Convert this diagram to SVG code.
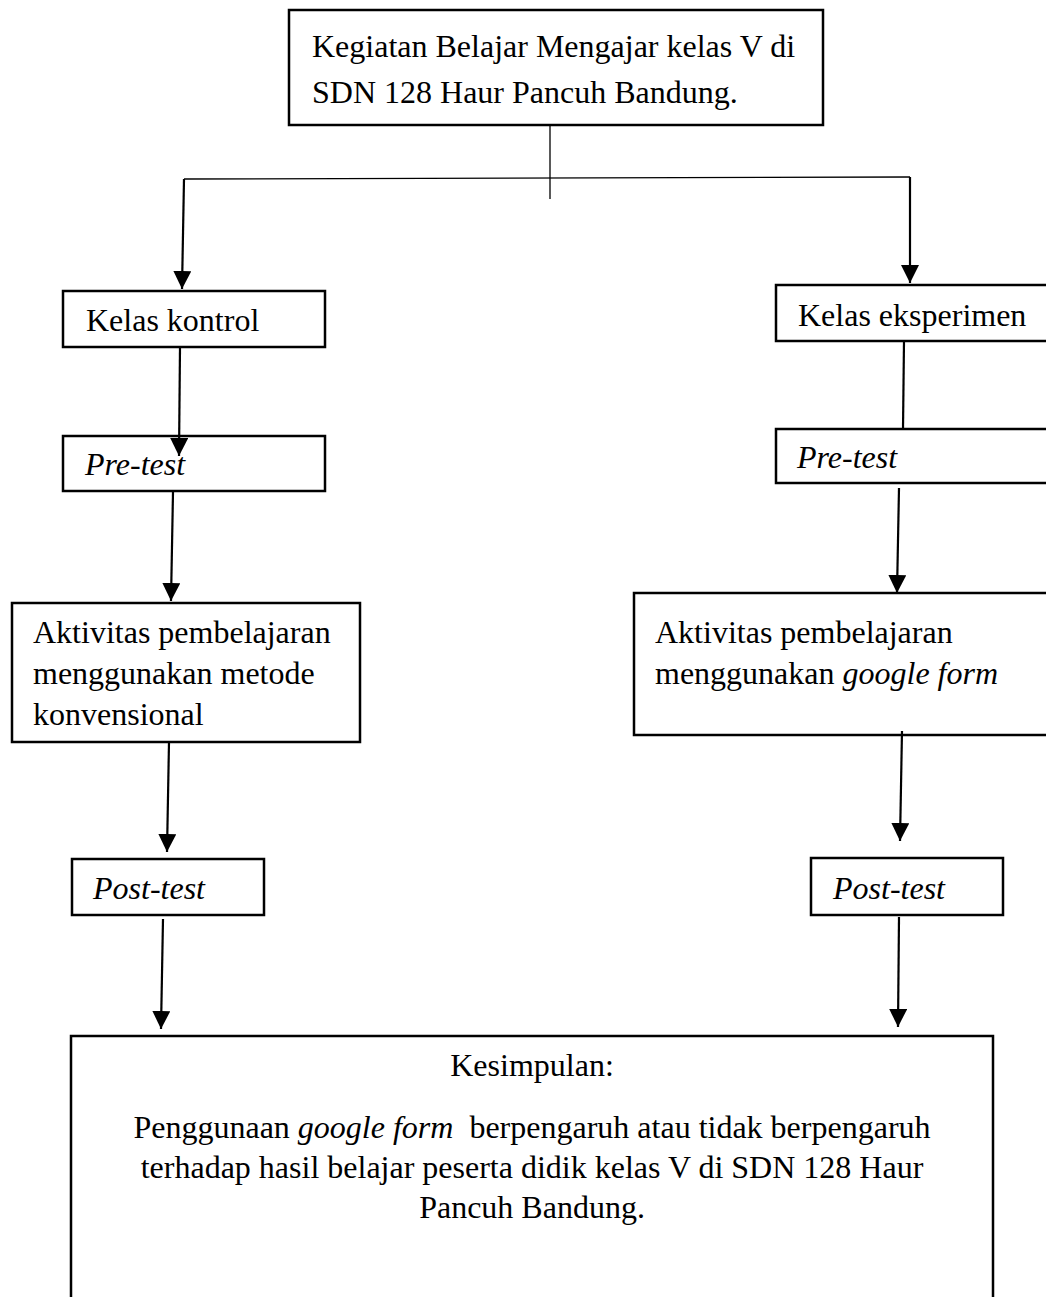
<svg xmlns="http://www.w3.org/2000/svg" width="1046" height="1297" viewBox="0 0 1046 1297">
<style>
  .box { fill: #fff; stroke: #000; stroke-width: 2.5; }
  .t { font-family: "Liberation Serif", "Times New Roman", serif; font-size: 32px; fill: #000; }
  .i { font-style: italic; }
  .c { text-anchor: middle; }
  .ln { fill: none; stroke: #000; stroke-width: 2.2; }
  .thin { fill: none; stroke: #000; stroke-width: 1.3; }
</style>
<defs>
  <marker id="arr" markerUnits="userSpaceOnUse" markerWidth="18" markerHeight="18" viewBox="0 0 16 16" refX="16" refY="8" orient="auto">
    <path d="M0,0 L16,8 L0,16 Z" fill="#000"/>
  </marker>
</defs>
<rect width="1046" height="1297" fill="#fff"/>

<g id="n-top">
  <rect class="box" x="289" y="10" width="534" height="115"/>
  <text class="t" x="312" y="57">Kegiatan Belajar Mengajar kelas V di</text>
  <text class="t" x="312" y="103">SDN 128 Haur Pancuh Bandung.</text>
</g>

<g id="n-kontrol">
  <rect class="box" x="63" y="291" width="262" height="56"/>
  <text class="t" x="86" y="331">Kelas kontrol</text>
</g>
<g id="n-eksperimen">
  <rect class="box" x="776" y="285" width="290" height="56"/>
  <text class="t" x="798" y="326">Kelas eksperimen</text>
</g>

<g id="n-pre-left">
  <rect class="box" x="63" y="436" width="262" height="55"/>
  <text class="t i" x="85" y="475">Pre-test</text>
</g>
<g id="n-pre-right">
  <rect class="box" x="776" y="429" width="290" height="54"/>
  <text class="t i" x="797" y="468">Pre-test</text>
</g>

<g id="n-akt-left">
  <rect class="box" x="12" y="603" width="348" height="139"/>
  <text class="t" x="33" y="643">Aktivitas pembelajaran</text>
  <text class="t" x="33" y="684">menggunakan metode</text>
  <text class="t" x="33" y="725">konvensional</text>
</g>
<g id="n-akt-right">
  <rect class="box" x="634" y="593" width="430" height="142"/>
  <text class="t" x="655" y="643">Aktivitas pembelajaran</text>
  <text class="t" x="655" y="684">menggunakan <tspan class="i">google form</tspan></text>
</g>

<g id="n-post-left">
  <rect class="box" x="72" y="859" width="192" height="56"/>
  <text class="t i" x="93" y="899">Post-test</text>
</g>
<g id="n-post-right">
  <rect class="box" x="811" y="858" width="192" height="57"/>
  <text class="t i" x="833" y="899">Post-test</text>
</g>

<g id="n-kesimpulan">
  <rect class="box" x="71" y="1036" width="922" height="300"/>
  <text class="t c" x="532" y="1076">Kesimpulan:</text>
  <text class="t c" x="532" y="1138">Penggunaan <tspan class="i">google form</tspan>&#160; berpengaruh atau tidak berpengaruh</text>
  <text class="t c" x="532" y="1178">terhadap hasil belajar peserta didik kelas V di SDN 128 Haur</text>
  <text class="t c" x="532" y="1218">Pancuh Bandung.</text>
</g>

<g id="connectors">
  <line class="thin" x1="550" y1="125" x2="550" y2="199"/>
  <line class="thin" x1="184" y1="179" x2="910" y2="177"/>
  <line class="ln" x1="184" y1="179" x2="182" y2="289" marker-end="url(#arr)"/>
  <line class="ln" x1="910" y1="177" x2="910" y2="283" marker-end="url(#arr)"/>
  <line class="ln" x1="180" y1="347" x2="179" y2="456" marker-end="url(#arr)"/>
  <line class="ln" x1="904" y1="341" x2="903" y2="429"/>
  <line class="ln" x1="173" y1="492" x2="171" y2="601" marker-end="url(#arr)"/>
  <line class="ln" x1="899" y1="488" x2="897" y2="593" marker-end="url(#arr)"/>
  <line class="ln" x1="169" y1="742" x2="167" y2="852" marker-end="url(#arr)"/>
  <line class="ln" x1="902" y1="731" x2="900" y2="841" marker-end="url(#arr)"/>
  <line class="ln" x1="163" y1="919" x2="161" y2="1029" marker-end="url(#arr)"/>
  <line class="ln" x1="899" y1="917" x2="898" y2="1027" marker-end="url(#arr)"/>
</g>
</svg>
